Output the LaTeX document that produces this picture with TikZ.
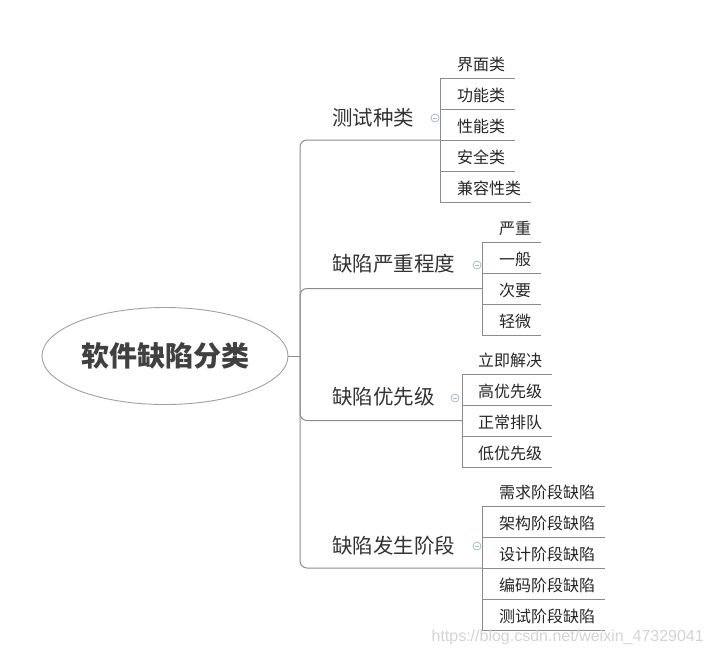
\documentclass[tikz,border=0pt]{standalone}
\usepackage{fontspec}
\setmainfont{Noto Sans CJK SC}
\newfontfamily\wmfont{Liberation Sans}
\usetikzlibrary{shapes.geometric,calc}
\definecolor{ln}{HTML}{8C8C8C}
\definecolor{ec}{HTML}{A0A0A0}
\definecolor{txt}{HTML}{333333}
\definecolor{leaftxt}{HTML}{262626}
\definecolor{roottxt}{HTML}{404040}
\definecolor{foldc}{HTML}{A8B8D8}
\definecolor{wm}{HTML}{D4D4D4}
\begin{document}
\begin{tikzpicture}[x=1pt,y=-1pt,
  line/.style={draw=ln,line width=1pt},
  topic/.style={font=\fontsize{20.5}{24}\selectfont, text=txt, inner sep=0pt, anchor=west, text height=16.4pt, text depth=0.8pt},
  leaf/.style={font=\fontsize{16}{19}\selectfont, text=leaftxt, inner sep=0pt, anchor=west, text height=12.8pt, text depth=0.6pt},
  fold/.style={circle, draw=foldc, line width=0.8pt, minimum size=8pt, inner sep=0pt,
    path picture={\draw[foldc,line width=0.8pt] ([xshift=-2pt]path picture bounding box.center) -- ([xshift=2pt]path picture bounding box.center);}}
]
\useasboundingbox (0,0) rectangle (711,657);
\fill[white] (0,0) rectangle (711,657);

% root
\node[ellipse, draw=ec, line width=0.9pt, minimum width=246pt, minimum height=97pt, inner sep=0pt,
  font=\fontsize{28}{32}\selectfont\bfseries, text=roottxt, text height=22.4pt, text depth=1.1pt] (root) at (165,356) {软件缺陷分类};
\coordinate (trunk) at (300,356);
\draw[line] (root.east) -- (trunk);

% ---------- branch 1
\node[topic] (t1) at (332,118) {测试种类};
\node[fold] (f1) at (435,118) {};
\coordinate (v1) at (440,140);
\coordinate (v1a) at (440,78);
\coordinate (v1b) at (440,202);
\draw[line, rounded corners=7pt] (trunk) |- (v1);
\draw[line] (v1a) -- (v1b);
\foreach \y/\t [count=\k] in {78/界面类,109/功能类,140/性能类,171/安全类,202/兼容性类}{
  \node[leaf] (a\k) at (457,\y-14) {\t};
  \path (a\k.east) ++(10,14) coordinate (ae\k);
  \coordinate (as\k) at (440,\y);
  \draw[line] (as\k) -- (ae\k);
}

% ---------- branch 2
\node[topic] (t2) at (332,264) {缺陷严重程度};
\node[fold] (f2) at (477,265) {};
\coordinate (v2) at (482,288.5);
\coordinate (v2a) at (482,242);
\coordinate (v2b) at (482,335);
\draw[line, rounded corners=7pt] (trunk) |- (v2);
\draw[line] (v2a) -- (v2b);
\foreach \y/\t [count=\k] in {242/严重,273/一般,304/次要,335/轻微}{
  \node[leaf] (b\k) at (499,\y-14) {\t};
  \path (b\k.east) ++(10,14) coordinate (be\k);
  \coordinate (bs\k) at (482,\y);
  \draw[line] (bs\k) -- (be\k);
}

% ---------- branch 3
\node[topic] (t3) at (332,397) {缺陷优先级};
\node[fold] (f3) at (455,398) {};
\coordinate (v3) at (462,420.5);
\coordinate (v3a) at (462,374);
\coordinate (v3b) at (462,467);
\draw[line, rounded corners=7pt] (trunk) |- (v3);
\draw[line] (v3a) -- (v3b);
\foreach \y/\t [count=\k] in {374/立即解决,405/高优先级,436/正常排队,467/低优先级}{
  \node[leaf] (c\k) at (478,\y-14) {\t};
  \path (c\k.east) ++(10,14) coordinate (ce\k);
  \coordinate (cs\k) at (462,\y);
  \draw[line] (cs\k) -- (ce\k);
}

% ---------- branch 4
\node[topic] (t4) at (332,546) {缺陷发生阶段};
\node[fold] (f4) at (477,546) {};
\coordinate (v4) at (482,568);
\coordinate (v4a) at (482,506);
\coordinate (v4b) at (482,630);
\draw[line, rounded corners=7pt] (trunk) |- (v4);
\draw[line] (v4a) -- (v4b);
\foreach \y/\t [count=\k] in {506/需求阶段缺陷,537/架构阶段缺陷,568/设计阶段缺陷,599/编码阶段缺陷,630/测试阶段缺陷}{
  \node[leaf] (d\k) at (499,\y-14) {\t};
  \path (d\k.east) ++(10,14) coordinate (de\k);
  \coordinate (ds\k) at (482,\y);
  \draw[line] (ds\k) -- (de\k);
}

% watermark
\node[anchor=east, inner sep=0pt, text=wm, font=\wmfont\fontsize{16}{19}\selectfont] (wmk) at (704,637) {https://blog.csdn.net/weixin\_47329041};
\end{tikzpicture}
\end{document}
